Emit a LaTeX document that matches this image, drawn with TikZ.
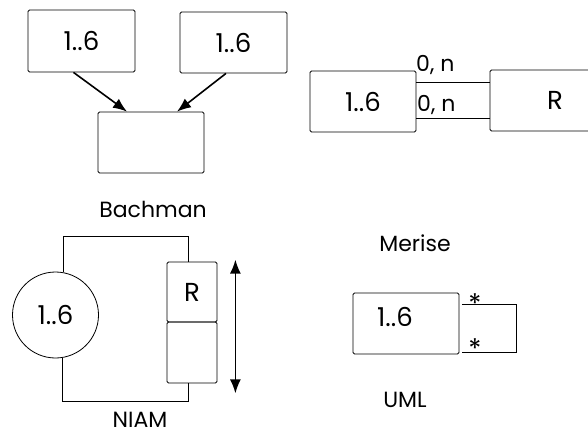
\documentclass[tikz,border=0pt]{standalone}
\usepackage{fontspec}
\setmainfont{Poppins}
\usetikzlibrary{arrows.meta,shapes.geometric}

\begin{document}
\begin{tikzpicture}[x=1pt,y=-1pt]
\tikzstyle{box1}=[rectangle, draw, rounded corners=1.5pt, line width=0.8pt, inner sep=0pt, font=\fontsize{26}{28}\selectfont]
\tikzstyle{txt}=[inner sep=0pt, font=\fontsize{22}{24}\selectfont]
\tikzstyle{small}=[inner sep=0pt, font=\fontsize{22}{24}\selectfont]
\tikzstyle{arrow}=[-{Latex[length=14pt,width=11pt]}, line width=1.6pt]
\tikzstyle{biarrow}=[{Latex[length=14pt,width=11pt]}-{Latex[length=14pt,width=11pt]}, line width=1.6pt]
\tikzstyle{link}=[line width=0.7pt]
\useasboundingbox (0,0) rectangle (588,435);

% Bachman
\node (A) [box1, minimum width=107pt, minimum height=62pt] at (81.5,41) {1..6};
\node (B) [box1, minimum width=107pt, minimum height=61pt] at (233.5,42.5) {1..6};
\node (C) [box1, minimum width=106pt, minimum height=61pt] at (151,142.5) {};
\draw [arrow] ([xshift=-8pt]A.south) -- ([xshift=-24pt]C.north);
\draw [arrow] ([xshift=-7.5pt]B.south) -- ([xshift=26pt]C.north);
\node (bach) [txt] at (153,209) {Bachman};

% Merise
\node (M) [box1, minimum width=106pt, minimum height=61pt] at (363,101.5) {1..6};
\begin{scope}
\clip (0,0) rectangle (588,435);
\node (R) [box1, minimum width=130pt, minimum height=61pt] at (555,100.5) {R};
\end{scope}
\coordinate (m1) at (M.east |- 0,82);
\coordinate (m2) at (M.east |- 0,118);
\draw [link] (m1) -- (m1 -| R.west);
\draw [link] (m2) -- (m2 -| R.west);
\node (c1) [small, anchor=base west] at (416,72) {0, n};
\node (c2) [small, anchor=base west] at (417,111.5) {0, n};
\node (mer) [txt] at (415,243) {Merise};

% NIAM
\node (N) [circle, draw, line width=0.8pt, minimum size=86pt, inner sep=0pt, font=\fontsize{26}{28}\selectfont] at (55.5,315) {1..6};
\node (NR) [box1, minimum width=50pt, minimum height=60pt] at (192,292) {R};
\node (NE) [box1, minimum width=50pt, minimum height=61pt] at (192,352.5) {};
\coordinate (ntop) at (188,236);
\coordinate (nbot) at (188,401);
\draw [link] ([xshift=7.5pt]N.north) |- (ntop) -- (ntop |- NR.north);
\draw [link] ([xshift=6.5pt]N.south) |- (nbot) -- (nbot |- NE.south);
\draw [biarrow] ([shift={(18,-2)}]NR.north east) -- ([shift={(18,10)}]NE.south east);
\node (niam) [txt] at (140,420) {NIAM};

% UML
\node (U) [box1, minimum width=106pt, minimum height=61pt] at (406,323.5) {};
\node (Ut) [inner sep=0pt, font=\fontsize{26}{28}\selectfont] at (395,317) {1..6};
\draw [link] ([shift={(3,-19.5)}]U.east) -- ++(54,0) |- ([shift={(3,28.5)}]U.east);
\node (s1) [inner sep=0pt, font=\fontsize{27}{29}\selectfont, anchor=base] at (475,313) {*};
\node (s2) [inner sep=0pt, font=\fontsize{27}{29}\selectfont, anchor=base] at (475,358) {*};
\node (uml) [txt] at (405,400) {UML};

\end{tikzpicture}
\end{document}
